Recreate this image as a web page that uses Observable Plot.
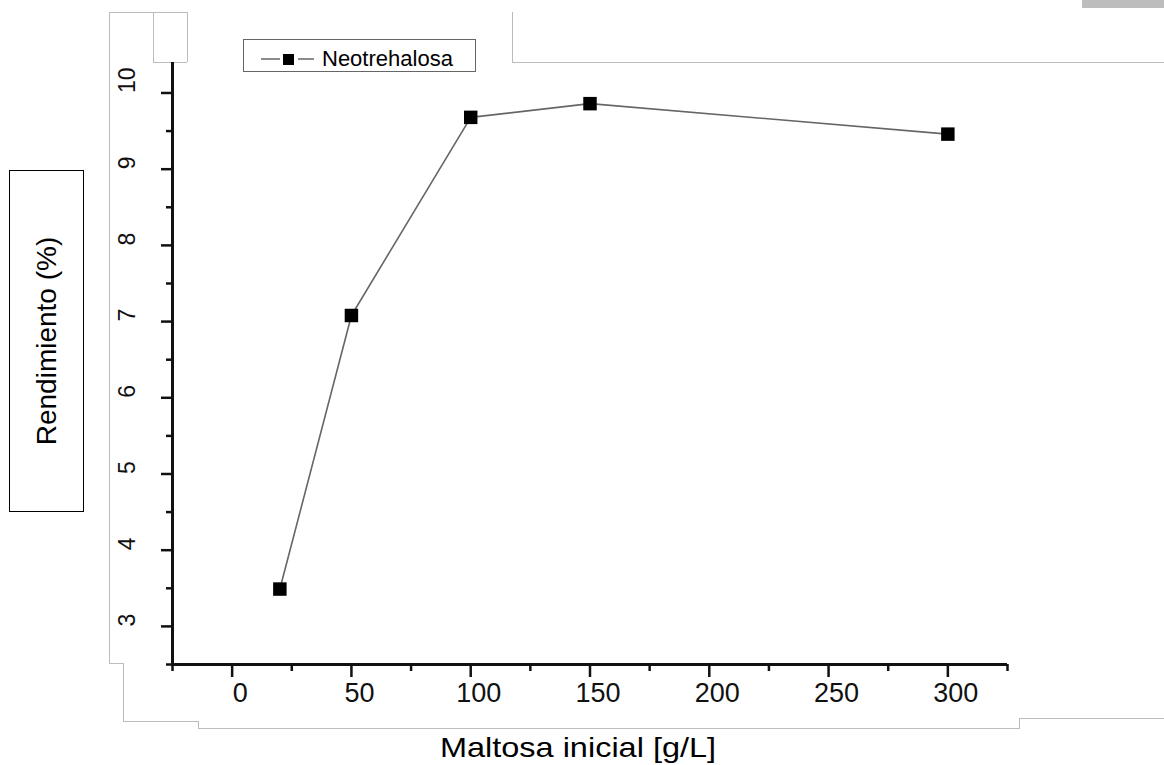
<!DOCTYPE html>
<html>
<head>
<meta charset="utf-8">
<script src="https://cdn.jsdelivr.net/npm/d3@7"></script>
<script src="https://cdn.jsdelivr.net/npm/@observablehq/plot@0.6"></script>
<style>
  html, body { margin: 0; padding: 0; background: #fff; }
  #wrap { position: relative; width: 1164px; height: 765px; overflow: hidden; font-family: "Liberation Sans", Arial, sans-serif; }
  #chart { position: absolute; left: 0; top: 0; }
  .scan { position: absolute; background: #bcbcbc; }
  #ylab { position: absolute; left: 9px; top: 170px; width: 73px; height: 340px; border: 1.5px solid #000; }
  #ylab span { position: absolute; left: 50%; top: 50%; transform: translate(-50%, -50%) rotate(-90deg); white-space: nowrap; font-size: 28px; color: #000; }
  #xlab { position: absolute; left: 578px; top: 732px; transform: translateX(-50%) scaleX(1.16); white-space: nowrap; font-size: 28px; color: #000; }
  #legend { position: absolute; left: 243px; top: 39px; width: 231px; height: 31px; border: 1.5px solid #666; }
  #legend svg { position: absolute; left: 0; top: 0; }
</style>
</head>
<body>
<div id="wrap">
  <!-- faint scan frame -->
  <div class="scan" style="left:109px;top:12px;width:1px;height:651px"></div>
  <div class="scan" style="left:109px;top:12px;width:78px;height:1px"></div>
  <div class="scan" style="left:153px;top:12px;width:1px;height:50px"></div>
  <div class="scan" style="left:153px;top:62px;width:34px;height:1px"></div>
  <div class="scan" style="left:187px;top:12px;width:1px;height:50px"></div>
  <div class="scan" style="left:109px;top:663px;width:14px;height:1px"></div>
  <div class="scan" style="left:123px;top:663px;width:1px;height:59px"></div>
  <div class="scan" style="left:123px;top:721px;width:76px;height:1px"></div>
  <div class="scan" style="left:198px;top:721px;width:1px;height:8px"></div>
  <div class="scan" style="left:198px;top:728px;width:822px;height:1px"></div>
  <div class="scan" style="left:1019px;top:718px;width:1px;height:10px"></div>
  <div class="scan" style="left:1019px;top:718px;width:145px;height:1px"></div>
  <div class="scan" style="left:512px;top:12px;width:1px;height:50px"></div>
  <div class="scan" style="left:512px;top:62px;width:652px;height:1px"></div>
  <div class="scan" style="left:1082px;top:0px;width:82px;height:8px;background:#bdbdbd"></div>

  <div id="chart"></div>

  <div id="legend">
    <svg width="231" height="31">
      <line x1="17" y1="19" x2="36" y2="19" stroke="#666" stroke-width="1.5"/>
      <rect x="39" y="14" width="11" height="11" fill="#000"/>
      <line x1="54" y1="19" x2="70" y2="19" stroke="#666" stroke-width="1.5"/>
      <text x="78" y="26" font-size="22" font-family="Liberation Sans, Arial, sans-serif" fill="#000">Neotrehalosa</text>
    </svg>
  </div>
  <div id="ylab"><span>Rendimiento (%)</span></div>
  <div id="xlab">Maltosa inicial [g/L]</div>
</div>
<script>
// ---- data ----
const maltosa = [20, 50, 100, 150, 300];
const rendimiento = [3.49, 7.08, 9.68, 9.86, 9.46];
const seriesName = "Neotrehalosa";

const xTicks = [0, 50, 100, 150, 200, 250, 300];
const xMinorTicks = [-25, 25, 75, 125, 175, 225, 275, 325];
const yTicks = [3, 4, 5, 6, 7, 8, 9, 10];
const yMinorTicks = [2.5, 3.5, 4.5, 5.5, 6.5, 7.5, 8.5, 9.5];

const xDomain = [-25, 325];
const yDomain = [2.5, 10.4];

const data = maltosa.map((x, i) => ({x, y: rendimiento[i], serie: seriesName}));

const chart = Plot.plot({
  width: 1164,
  height: 765,
  marginLeft: 172,
  marginRight: 157,
  marginTop: 62,
  marginBottom: 101,
  style: {background: "transparent", overflow: "visible", fontFamily: "Liberation Sans, Arial, sans-serif", color: "#000"},
  x: {domain: xDomain, axis: null},
  y: {domain: yDomain, axis: null},
  marks: [
    Plot.axisX(xMinorTicks, {tickSize: 7, tickFormat: () => "", label: null, strokeWidth: 2.5, stroke: "#111"}),
    Plot.axisX(xTicks, {tickSize: 13, tickFormat: () => "", label: null, strokeWidth: 2.5, stroke: "#111"}),
    Plot.axisY(yMinorTicks, {tickSize: 6, tickFormat: () => "", label: null, strokeWidth: 2.5, stroke: "#111"}),
    Plot.axisY(yTicks, {tickSize: 11, tickFormat: () => "", label: null, strokeWidth: 2.5, stroke: "#111"}),
    Plot.ruleX([xDomain[0]], {strokeWidth: 3, stroke: "#111"}),
    Plot.ruleY([yDomain[0]], {strokeWidth: 3, stroke: "#111"}),
    Plot.text(xTicks, {x: d => d, frameAnchor: "bottom", dy: 37, dx: 8, text: d => String(d), fontSize: 27, fill: "#111"}),
    Plot.text(yTicks, {y: d => d, frameAnchor: "left", dx: -45, rotate: -90, text: d => String(d), fontSize: 23, fill: "#111"}),
    Plot.line(data, {x: "x", y: "y", stroke: "#666", strokeWidth: 1.6}),
    Plot.dot(data, {x: "x", y: "y", symbol: "square", r: 7.6, fill: "#000", stroke: "none"})
  ]
});
document.getElementById("chart").appendChild(chart);
</script>
</body>
</html>
